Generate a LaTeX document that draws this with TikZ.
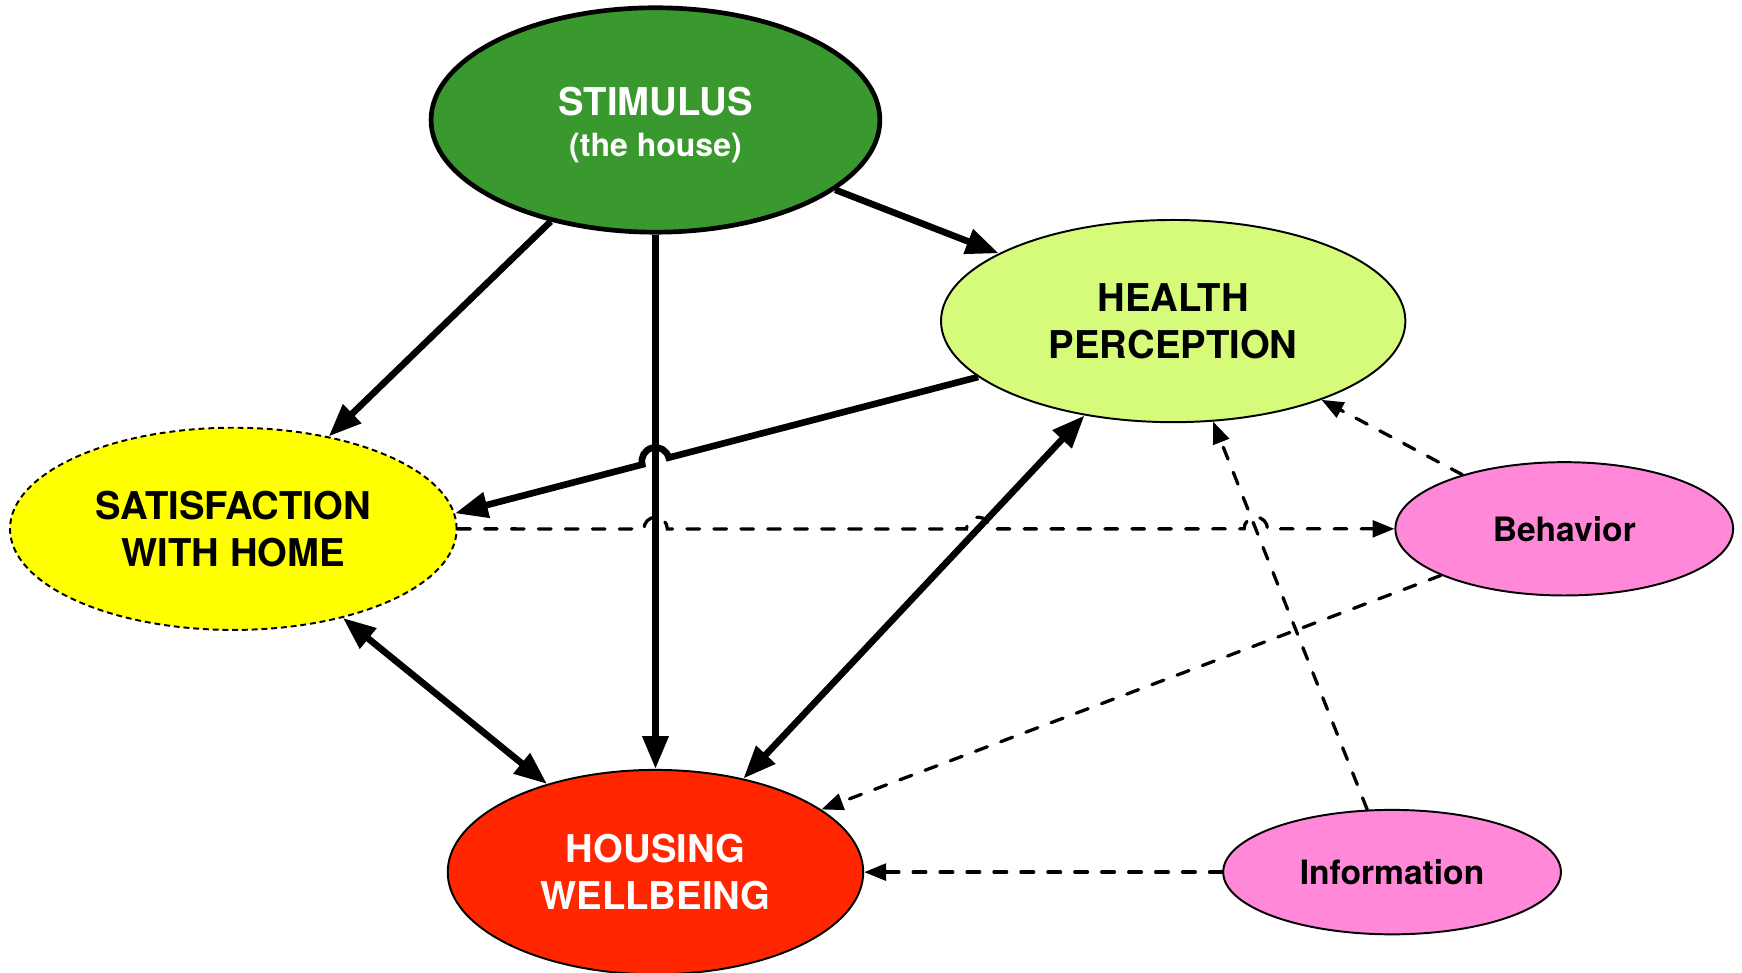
\documentclass[tikz,border=0pt]{standalone}
\usepackage{fontspec}
\setmainfont{TeX Gyre Heros}
\usepackage{tikz}
\usetikzlibrary{shapes.geometric,arrows.meta,calc}
\definecolor{stimgreen}{RGB}{58,153,46}
\definecolor{healthgreen}{RGB}{214,250,122}
\definecolor{homeyellow}{RGB}{255,255,0}
\definecolor{wellred}{RGB}{255,38,0}
\definecolor{factorpink}{RGB}{255,136,216}
\tikzstyle{bignode}=[draw,%
                     ellipse,%
                     inner sep  = 0pt,%
                     line width = 0.5pt,%
                     align      = center,%
                     font       = \fontsize{9.8}{12}\selectfont\bfseries]
\tikzstyle{stimnode}=[bignode,fill=stimgreen,text=white,line width=1.2pt,minimum width=4.04cm,minimum height=2.02cm]
\tikzstyle{healthnode}=[bignode,fill=healthgreen,minimum width=4.18cm,minimum height=1.82cm]
\tikzstyle{homenode}=[bignode,fill=homeyellow,dash pattern=on 1.5pt off 1pt,minimum width=4.02cm,minimum height=1.82cm]
\tikzstyle{wellnode}=[bignode,fill=wellred,text=white,minimum width=3.74cm,minimum height=1.84cm]
\tikzstyle{pinknode}=[bignode,fill=factorpink,font=\fontsize{8.6}{10}\selectfont\bfseries,minimum width=3.04cm,minimum height=1.2cm]
\tikzstyle{causal}=[line width=1.7pt,-{Triangle[length=8.4pt,width=6.4pt]}]
\tikzstyle{mutual}=[line width=1.7pt,{Triangle[length=8.4pt,width=6.4pt]}-{Triangle[length=8.4pt,width=6.4pt]}]
\tikzstyle{influence}=[line width=0.84pt,dash pattern=on 3.25pt off 3.65pt,line cap=round,-{Triangle[length=5.6pt,width=4.3pt]}]
\begin{document}
\begin{tikzpicture}
            \useasboundingbox (0,0) rectangle (15.68,-8.75);
            \node[stimnode] (stim) at (5.90,-1.08) {\rule{0pt}{10pt}STIMULUS\\[-1.4pt]{\fontsize{8.2}{10}\selectfont (the house)}};
            \node[healthnode] (health) at (10.56,-2.89) {HEALTH\\PERCEPTION};
            \node[homenode] (sat) at (2.10,-4.76) {SATISFACTION\\WITH HOME};
            \node[wellnode][below of=stim, node distance=6.77cm] (hw) {HOUSING\\WELLBEING};
            \node[pinknode][right of=sat, node distance=11.98cm] (beh) {Behavior};
            \node[pinknode, minimum height=1.12cm][right of=hw, node distance=6.63cm] (info) {Information};
            % crossing points for the line jumps
            \coordinate (jmpA) at (intersection of health.196--sat.4 and stim.center--hw.center);
            \coordinate (jmpB) at (intersection of sat.center--beh.center and stim.center--hw.center);
            \coordinate (jmpC) at (intersection of sat.center--beh.center and health.center--hw.center);
            \coordinate (jmpD) at (intersection of sat.center--beh.center and info.center--health.center);
            \draw [causal] (stim) -- (health);
            \draw [causal] (stim) -- (sat);
            \draw [causal] (stim) -- (hw);
            \draw [causal] let \p1=($(health.196)-(sat.4)$), \n1={atan2(\y1,\x1)} in
                  (health.196) -- ($(jmpA)!3.5pt!(health.196)$)
                  arc[start angle=\n1, end angle=\n1+180, radius=3.5pt] -- (sat.4);
            \draw [mutual] (sat) -- (hw);
            \draw [mutual] (health) -- (hw);
            \draw [influence] (sat) -- ($(jmpB)+(-3pt,0)$) arc[start angle=180, end angle=0, radius=3pt]
                  -- ($(jmpC)+(-3pt,0)$) arc[start angle=180, end angle=0, radius=3pt]
                  -- ($(jmpD)+(-3pt,0)$) arc[start angle=180, end angle=0, radius=3pt] -- (beh);
            \draw [influence] (beh) -- (health);
            \draw [influence] (beh) -- (hw);
            \draw [influence] (info) -- (health);
            \draw [influence] (info) -- (hw);
  \end{tikzpicture}
\end{document}
